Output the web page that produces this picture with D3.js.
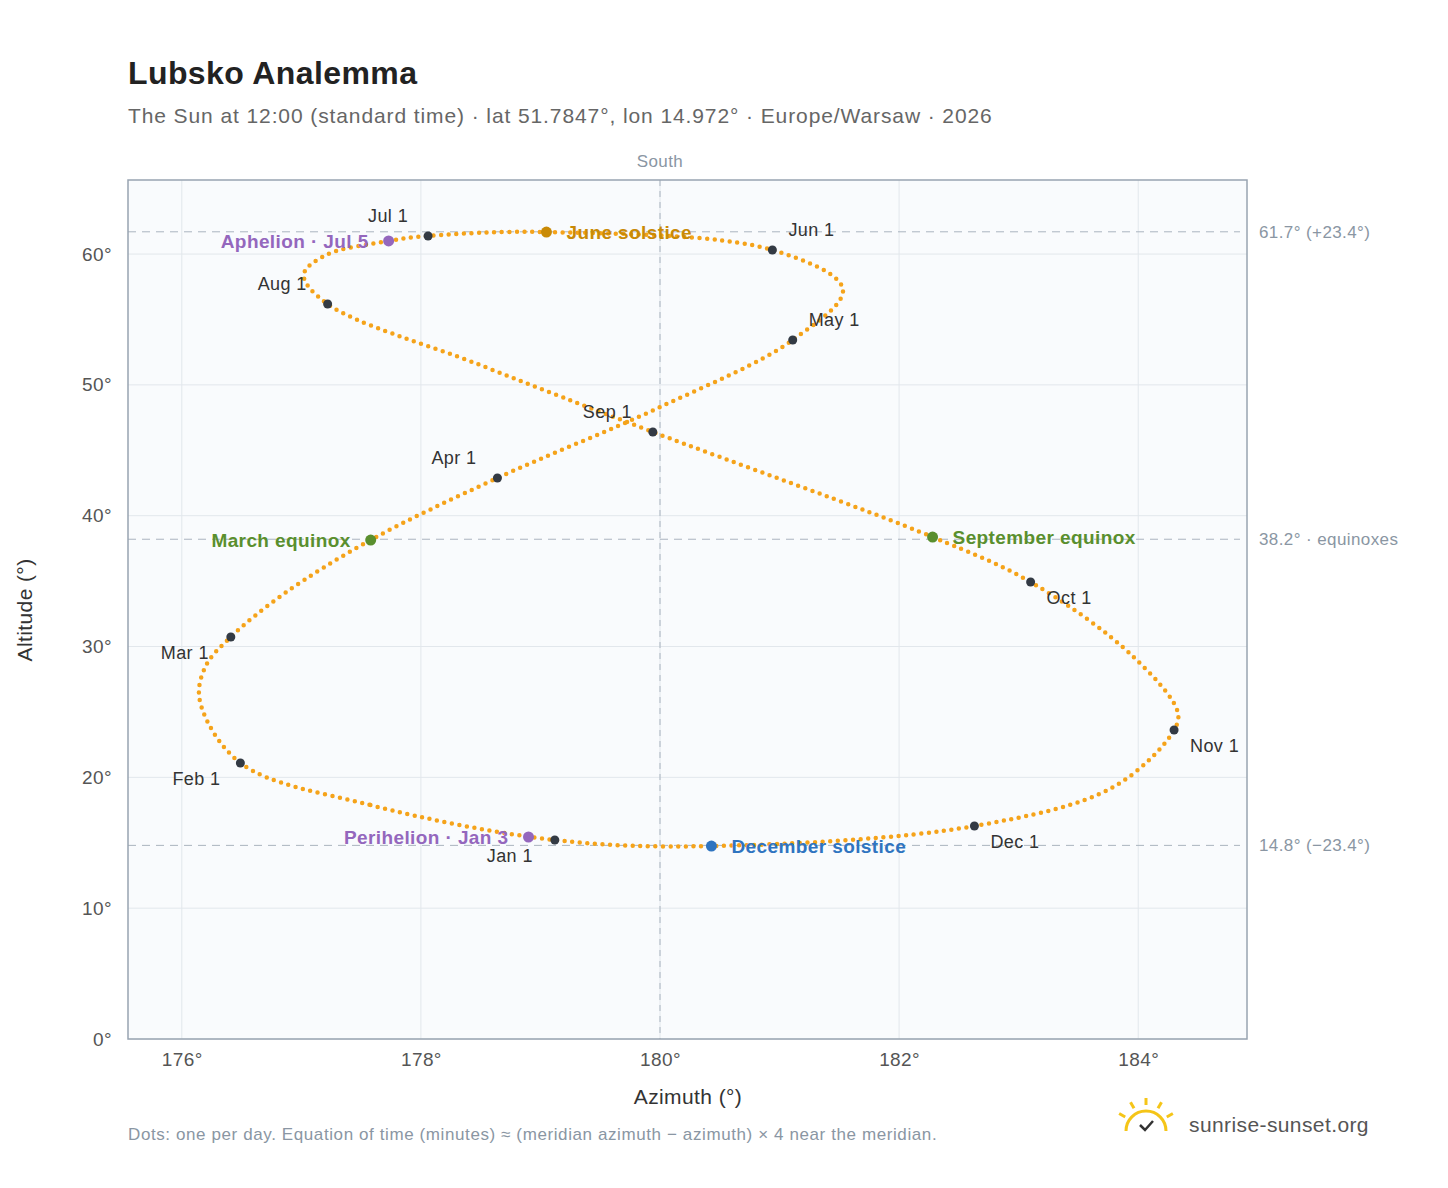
<!DOCTYPE html><html><head><meta charset="utf-8"><script src="https://cdn.jsdelivr.net/npm/d3@7"></script>
<style>body{margin:0;background:#fff;font-family:"Liberation Sans",Arial,sans-serif}text{letter-spacing:0.4px}</style></head><body><svg id="c" width="1448" height="1188"></svg><script>
const pathDates=["Jan 1","Jan 16","Feb 1","Feb 11","Feb 20","Mar 1","Mar 10","Mar 20","Apr 1","Apr 16","May 1","May 14","Jun 1","Jun 21","Jul 1","Jul 5","Jul 15","Jul 26","Aug 1","Aug 16","Sep 1","Sep 22","Oct 1","Oct 15","Oct 27","Nov 1","Nov 15","Dec 1","Dec 21"];
const pathAz=[179.12,177.57,176.49,176.15,176.2,176.41,176.85,177.58,178.64,180.0,181.11,181.53,180.94,179.05,178.06,177.73,177.2,177.02,177.22,178.5,179.94,182.28,183.1,183.95,184.33,184.3,183.8,182.63,180.43];
const pathAlt=[15.21,17.9,21.1,25.9,28.5,30.73,34.0,38.14,42.88,48.3,53.43,57.3,60.31,61.68,61.38,61.0,59.9,58.4,56.18,51.5,46.4,38.37,34.93,29.3,25.0,23.62,19.3,16.28,14.75];
const monthLabels=["Jan 1","Feb 1","Mar 1","Apr 1","May 1","Jun 1","Jul 1","Aug 1","Sep 1","Oct 1","Nov 1","Dec 1"];
const monthAz=[179.12,176.49,176.41,178.64,181.11,180.94,178.06,177.22,179.94,183.10,184.30,182.63];
const monthAlt=[15.21,21.10,30.73,42.88,53.43,60.31,61.38,56.18,46.40,34.93,23.62,16.28];
const monthDx=[-68,-68,-70,-66,16,16,-60,-70,-70,16,16,16], monthDy=[22,22,22,-14,-14,-14,-14,-14,-14,22,22,22];
const events=["March equinox","June solstice","September equinox","December solstice","Perihelion · Jan 3","Aphelion · Jul 5"];
const evAz=[177.58,179.05,182.28,180.43,178.90,177.73], evAlt=[38.14,61.68,38.37,14.75,15.44,61.0];
const evCol=["#5a8f2e","#c98a06","#5a8f2e","#2f74c0","#9467bd","#9467bd"], evSide=[-1,1,1,1,-1,-1];
const refVals=[61.7,38.2,14.8], refLabels=["61.7° (+23.4°)","38.2° · equinoxes","14.8° (−23.4°)"];
const xTicks=[176,178,180,182,184], yTicks=[0,10,20,30,40,50,60];
const svg=d3.select("#c");
const L=128,T=180,W=1119,H=859;
const x=d3.scaleLinear().domain([175.55,184.91]).range([L,L+W]);
const y=d3.scaleLinear().domain([0,65.66]).range([T+H,T]);
svg.append("text").attr("x",128).attr("y",84).attr("font-size",32).attr("font-weight","bold").attr("fill","#222").text("Lubsko Analemma");
svg.append("text").attr("x",128).attr("y",123).attr("font-size",21).attr("fill","#666").attr("style","letter-spacing:0.9px").text("The Sun at 12:00 (standard time) · lat 51.7847°, lon 14.972° · Europe/Warsaw · 2026");
svg.append("rect").attr("x",L).attr("y",T).attr("width",W).attr("height",H).attr("fill","#f9fbfd");
const g=svg.append("g");
xTicks.forEach(t=>g.append("line").attr("x1",x(t)).attr("x2",x(t)).attr("y1",T).attr("y2",T+H).attr("stroke","#e2e7ec"));
yTicks.forEach(t=>g.append("line").attr("x1",L).attr("x2",L+W).attr("y1",y(t)).attr("y2",y(t)).attr("stroke","#e2e7ec"));
g.append("line").attr("x1",x(180)).attr("x2",x(180)).attr("y1",T).attr("y2",T+H).attr("stroke","#aab4bf").attr("stroke-dasharray","6,5");
svg.append("text").attr("x",x(180)).attr("y",167).attr("text-anchor","middle").attr("font-size",17).attr("fill","#8a96a3").text("South");
refVals.forEach((v,i)=>{g.append("line").attr("x1",L).attr("x2",1240).attr("y1",y(v)).attr("y2",y(v)).attr("stroke","#aab4bf").attr("stroke-dasharray","8,6");
 svg.append("text").attr("x",1259).attr("y",y(v)+6).attr("font-size",17).attr("fill","#8a96a3").text(refLabels[i]);});
svg.append("rect").attr("x",L).attr("y",T).attr("width",W).attr("height",H).attr("fill","none").attr("stroke","#98a4b1").attr("stroke-width",1.5);
const xa=svg.append("g").attr("transform",`translate(0,${T+H})`).call(d3.axisBottom(x).tickValues(xTicks).tickFormat(d=>d+"°").tickSize(0).tickPadding(14));
const ya=svg.append("g").attr("transform",`translate(${L},0)`).call(d3.axisLeft(y).tickValues(yTicks).tickFormat(d=>d+"°").tickSize(0).tickPadding(16));
[xa,ya].forEach(a=>{a.select(".domain").remove();a.selectAll("text").attr("font-size",19).attr("fill","#555").attr("font-family","Liberation Sans,Arial");});
svg.append("text").attr("x",688).attr("y",1104).attr("text-anchor","middle").attr("font-size",21).attr("fill","#333").text("Azimuth (°)");
svg.append("text").attr("transform","translate(32,610) rotate(-90)").attr("text-anchor","middle").attr("font-size",21).attr("fill","#333").text("Altitude (°)");
const pts=pathAz.map((a,i)=>[x(a),y(pathAlt[i])]);
svg.append("path").attr("d",d3.line().curve(d3.curveCatmullRomClosed)(pts)).attr("fill","none").attr("stroke","#f5a31a").attr("stroke-width",4.5).attr("stroke-linecap","round").attr("stroke-dasharray","0 7.6");
monthAz.forEach((a,i)=>{svg.append("circle").attr("cx",x(a)).attr("cy",y(monthAlt[i])).attr("r",4.5).attr("fill","#333a44");
 svg.append("text").attr("x",x(a)+monthDx[i]).attr("y",y(monthAlt[i])+monthDy[i]).attr("font-size",18).attr("fill","#333").text(monthLabels[i]);});
events.forEach((e,i)=>{const cx=x(evAz[i]),cy=y(evAlt[i]);svg.append("circle").attr("cx",cx).attr("cy",cy).attr("r",5.5).attr("fill",evCol[i]);
 svg.append("text").attr("x",cx+evSide[i]*20).attr("y",cy+7).attr("text-anchor",evSide[i]<0?"end":"start").attr("font-size",19).attr("font-weight","bold").attr("fill",evCol[i]).text(e);});
svg.append("text").attr("x",128).attr("y",1140).attr("font-size",17).attr("fill","#8a96a3").attr("style","letter-spacing:0.6px").text("Dots: one per day. Equation of time (minutes) ≈ (meridian azimuth − azimuth) × 4 near the meridian.");
const lg=svg.append("g").attr("transform","translate(1146,1125)");
lg.append("path").attr("d","M-20,6 A20,20 0 0,1 20,6").attr("fill","none").attr("stroke","#f5c518").attr("stroke-width",3);
[-60,-30,0,30,60].forEach(a=>{const r=Math.PI*(a-90)/180;lg.append("line").attr("x1",Math.cos(r)*24).attr("y1",Math.sin(r)*24+4).attr("x2",Math.cos(r)*31).attr("y2",Math.sin(r)*31+4).attr("stroke","#f5c518").attr("stroke-width",3);});
lg.append("path").attr("d","M-6,0 L-1,5 L7,-4").attr("fill","none").attr("stroke","#333").attr("stroke-width",2.5);
svg.append("text").attr("x",1189).attr("y",1132).attr("font-size",21).attr("fill","#555").text("sunrise-sunset.org");
</script></body></html>
